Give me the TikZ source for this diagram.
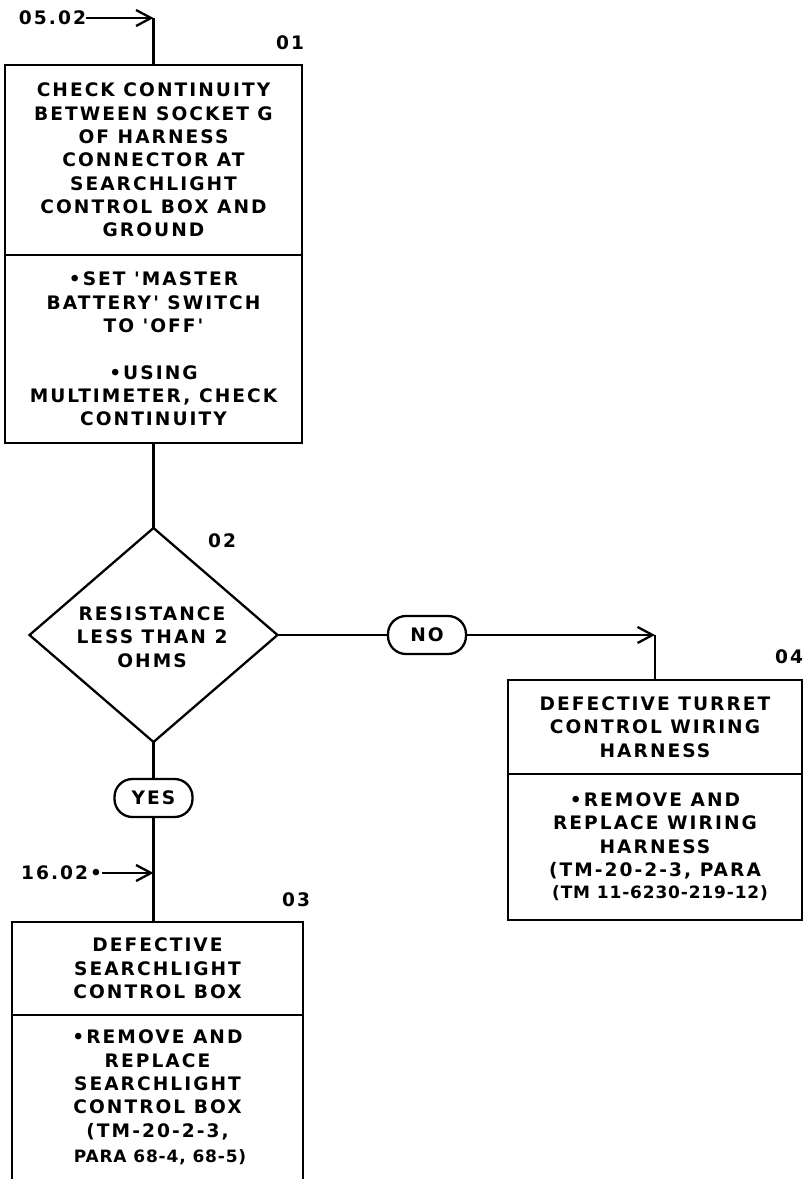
\documentclass[tikz,border=0pt]{standalone}
\usepackage{fontspec}
\newfontfamily\lrfont[LetterSpace=11]{DejaVu Sans Bold}
\newfontfamily\lrmid[LetterSpace=5]{DejaVu Sans Bold}
\usetikzlibrary{arrows.meta,shapes.geometric}
\begin{document}
\begin{tikzpicture}[x=1pt,y=-1pt,
  every node/.style={inner sep=0pt,outer sep=0pt},
  boxpart/.style={draw,line width=2.3pt,rectangle},
  txt/.style={font=\lrfont\fontsize{18.6}{23.3}\selectfont,align=center},
  midtxt/.style={font=\lrmid\fontsize{17}{23.3}\selectfont},
  lbl/.style={font=\lrfont\fontsize{18.6}{20}\selectfont},
  pill/.style={draw,line width=2.3pt,rectangle,rounded corners=18pt,minimum width=78pt,minimum height=38pt,font=\lrfont\fontsize{18.6}{20}\selectfont},
  conn/.style={line width=2.3pt},
  arr/.style={conn,-{Straight Barb[length=15pt,width=16pt,line width=2.3pt]}}
]
\useasboundingbox (0,0) rectangle (803,1179);

% Box 01
\node[boxpart,minimum width=297pt,minimum height=190pt,txt] (b01t) at (153.5,160)
  {CHECK CONTINUITY\\BETWEEN SOCKET G\\OF HARNESS\\CONNECTOR AT\\SEARCHLIGHT\\CONTROL BOX AND\\GROUND};
\node[boxpart,minimum width=297pt,minimum height=188pt,txt] (b01b) at (153.5,349)
  {•SET 'MASTER\\BATTERY' SWITCH\\TO 'OFF'\\[23.3pt]•USING\\MULTIMETER, CHECK\\CONTINUITY};
\node[lbl] (l01) at (290,43) {01};

% Entry 05.02
\node[lbl,anchor=east] (n0502) at (86,18) {05.02};
\coordinate (c1) at (153.5,18);
\draw[arr] (n0502.east) -- (c1);
\draw[conn] (c1) -- (b01t.north);

% Decision 02
\node[draw,diamond,line width=2.3pt,aspect=1.16,minimum width=248pt,minimum height=214pt] (d02) at (153.5,635) {};
\node[txt] (t02) at (152,637) {RESISTANCE\\LESS THAN 2\\OHMS};
\node[lbl] (l02) at (222,541) {02};
\draw[conn] (b01b.south) -- (d02.north);

% NO branch
\node[pill] (no) at (427,635) {NO};
\coordinate (c2) at (655,635);
\draw[conn] (d02.east) -- (no.west);
\draw[arr] (no.east) -- (c2);

% Box 04
\node[boxpart,minimum width=294pt,minimum height=94pt,txt] (b04t) at (655,727)
  {DEFECTIVE TURRET\\CONTROL WIRING\\HARNESS};
\node[boxpart,minimum width=294pt,minimum height=146pt] (b04b) at (655,847) {};
\node[txt] (t04b) at (655,836) {•REMOVE AND\\REPLACE WIRING\\HARNESS\\(TM-20-2-3, PARA};
\node[midtxt] (t04c) at (660,893) {(TM 11-6230-219-12)};
\node[lbl,anchor=east] (l04) at (803,657) {04};
\draw[conn] (c2) -- (b04t.north);

% YES branch
\node[pill] (yes) at (153.5,798) {YES};
\draw[conn] (d02.south) -- (yes.north);

% Box 03
\node[boxpart,minimum width=291pt,minimum height=93pt,txt] (b03t) at (157.5,968.5)
  {DEFECTIVE\\SEARCHLIGHT\\CONTROL BOX};
\node[boxpart,minimum width=291pt,minimum height=190pt] (b03b) at (157.5,1110) {};
\node[txt] (t03b) at (157.5,1085) {•REMOVE AND\\REPLACE\\SEARCHLIGHT\\CONTROL BOX\\(TM-20-2-3,};
\node[midtxt] (t03c) at (160,1157) {PARA 68-4, 68-5)};
\node[lbl] (l03) at (296,900) {03};
\draw[conn] (yes.south) -- (yes.south |- b03t.north);

% Entry 16.02
\node[lbl,anchor=east] (n1602) at (102,873) {16.02•};
\coordinate (c3) at (153.5,873);
\draw[arr] (n1602.east) -- (c3);
\end{tikzpicture}
\end{document}
